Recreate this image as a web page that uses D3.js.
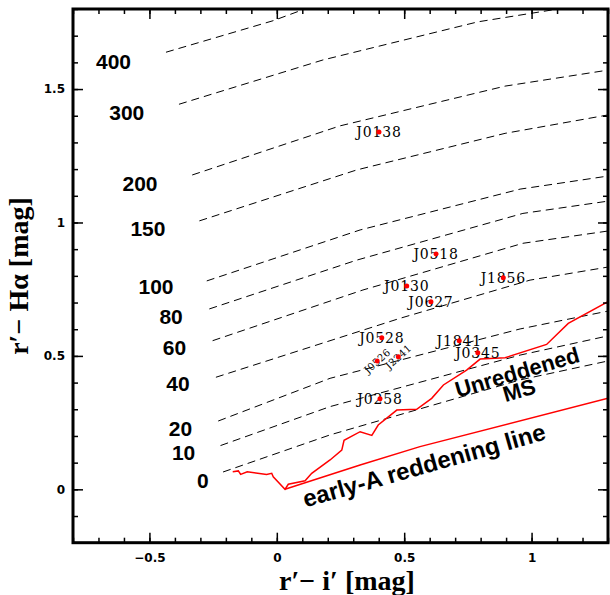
<!DOCTYPE html>
<html>
<head>
<meta charset="utf-8">
<script src="https://cdn.jsdelivr.net/npm/d3@7"></script>
<style>
  html, body { margin: 0; padding: 0; background: #fff; }
  svg { display: block; }
</style>
</head>
<body>
<svg id="chart" width="610" height="595"></svg>
<script>
// Axis extents and tick labels
const xDomain = [-0.8, 1.3];
const yDomain = [-0.2, 1.8];
const xMajor = [-0.5, 0, 0.5, 1];
const xTickLabels = ["\u22120.5", "0", "0.5", "1"];
const yMajor = [0, 0.5, 1, 1.5];
const yTickLabels = ["0", "0.5", "1", "1.5"];

// Lines of constant H-alpha equivalent width (Å): [r'-i', r'-Hα] vertices
const ewLevels = ["0", "10", "20", "40", "60", "80", "100", "150", "200", "300", "400"];
const ewTracks = [
  [[-0.211, 0.065], [0.209, 0.204], [0.955, 0.410], [1.300, 0.481]],
  [[-0.221, 0.164], [0.209, 0.310], [0.955, 0.503], [1.300, 0.575]],
  [[-0.230, 0.256], [0.209, 0.416], [0.955, 0.601], [1.300, 0.668]],
  [[-0.239, 0.420], [0.484, 0.641], [0.994, 0.784], [1.300, 0.833]],
  [[-0.252, 0.557], [0.338, 0.747], [0.966, 0.922], [1.300, 0.968]],
  [[-0.265, 0.676], [0.314, 0.859], [0.966, 1.034], [1.300, 1.080]],
  [[-0.275, 0.781], [0.327, 0.972], [0.955, 1.125], [1.300, 1.174]],
  [[-0.304, 1.006], [0.314, 1.197], [0.896, 1.334], [1.300, 1.403]],
  [[-0.332, 1.178], [0.248, 1.362], [0.896, 1.511], [1.300, 1.571]],
  [[-0.384, 1.443], [0.181, 1.609], [0.790, 1.752], [1.104, 1.800]],
  [[-0.435, 1.638], [-0.015, 1.756], [0.110, 1.800]]
];
// Where each equivalent-width label sits, in data units
const ewLabelRI = [-0.290, -0.366, -0.378, -0.388, -0.402, -0.415, -0.474, -0.506, -0.537, -0.589, -0.641];
const ewLabelRHa = [0.035, 0.137, 0.229, 0.395, 0.531, 0.647, 0.762, 0.976, 1.148, 1.414, 1.605];

// Unreddened main sequence
const msRI = [-0.173, -0.151, -0.142, -0.116, -0.040, -0.020, -0.014, 0.032, 0.045, 0.111, 0.137, 0.209,
              0.255, 0.264, 0.327, 0.373, 0.398, 0.471, 0.549, 0.608, 0.654, 0.745, 0.798, 0.896,
              1.059, 1.144, 1.300];
const msRHa = [0.066, 0.069, 0.056, 0.066, 0.056, 0.060, 0.047, 0.000, 0.019, 0.032, 0.060, 0.110,
               0.147, 0.184, 0.216, 0.202, 0.241, 0.297, 0.300, 0.341, 0.391, 0.447, 0.488, 0.493,
               0.543, 0.622, 0.703];

// Early-A reddening line
const redRI = [0.032, 0.327, 0.562, 1.300];
const redRHa = [0.000, 0.091, 0.160, 0.341];

// Emission-line objects
const starNames = ["J0138", "J0518", "J1856", "J0130", "J0627", "J0528", "J1841", "J0345", "J0258", "J0526", "J2241"];
const starRI = [0.401, 0.625, 0.889, 0.510, 0.605, 0.412, 0.716, 0.789, 0.405, 0.394, 0.477];
const starRHa = [1.339, 0.882, 0.793, 0.762, 0.703, 0.568, 0.557, 0.512, 0.339, 0.481, 0.497];
const tiltedNames = ["J0526", "J2241"];

const plot = { left: 73, right: 608, top: 9, bottom: 542.7 };

const svg = d3.select("#chart");
const x = d3.scaleLinear().domain(xDomain).range([plot.left, plot.right]);
const y = d3.scaleLinear().domain(yDomain).range([plot.bottom, plot.top]);

svg.append("defs").append("clipPath").attr("id", "plotArea")
  .append("rect")
  .attr("x", plot.left).attr("y", plot.top)
  .attr("width", plot.right - plot.left).attr("height", plot.bottom - plot.top);

const line = d3.line().x(d => x(d[0])).y(d => y(d[1]));
const content = svg.append("g").attr("clip-path", "url(#plotArea)");

// Dashed equivalent-width tracks
content.selectAll("path.ew")
  .data(ewTracks)
  .join("path")
  .attr("class", "ew")
  .attr("d", line)
  .attr("fill", "none")
  .attr("stroke", "#000")
  .attr("stroke-width", 1)
  .attr("stroke-dasharray", "8,5");

// Main sequence and reddening line
content.append("path")
  .datum(d3.zip(msRI, msRHa))
  .attr("d", line)
  .attr("fill", "none")
  .attr("stroke", "#ff0000")
  .attr("stroke-width", 1.5)
  .attr("stroke-linejoin", "miter");

content.append("path")
  .datum(d3.zip(redRI, redRHa))
  .attr("d", line)
  .attr("fill", "none")
  .attr("stroke", "#ff0000")
  .attr("stroke-width", 1.5);

// Equivalent-width labels
svg.append("g")
  .selectAll("text")
  .data(ewLevels)
  .join("text")
  .attr("x", (d, i) => x(ewLabelRI[i]))
  .attr("y", (d, i) => y(ewLabelRHa[i]))
  .attr("dy", "0.36em")
  .attr("text-anchor", "middle")
  .attr("font-family", "'Liberation Sans', Arial, sans-serif")
  .attr("font-weight", "bold")
  .attr("font-size", 21)
  .text(d => d);

// Object labels with their points
const stars = starNames.map((n, i) => ({ name: n, ri: starRI[i], rha: starRHa[i], tilted: tiltedNames.includes(n) }));
const sg = svg.append("g");
sg.selectAll("text")
  .data(stars)
  .join("text")
  .attr("transform", d => `translate(${x(d.ri)},${y(d.rha)}) rotate(${d.tilted ? -42 : 0})`)
  .attr("dy", "0.36em")
  .attr("text-anchor", "middle")
  .attr("font-family", "'DejaVu Serif', serif")
  .attr("font-size", d => d.tilted ? 10 : 14)
  .attr("letter-spacing", d => d.tilted ? 0.3 : 0.8)
  .attr("fill", "#000")
  .text(d => d.name);
sg.selectAll("circle")
  .data(stars)
  .join("circle")
  .attr("cx", d => x(d.ri))
  .attr("cy", d => y(d.rha))
  .attr("r", 2.5)
  .attr("fill", "#ff0000");

// Curve annotations
const annot = svg.append("g")
  .attr("font-family", "'Liberation Sans', Arial, sans-serif")
  .attr("font-weight", "bold")
  .attr("text-anchor", "middle");
annot.append("text")
  .attr("transform", "translate(517,372) rotate(-16.3)")
  .attr("dy", "0.36em").attr("font-size", 22)
  .text("Unreddened");
annot.append("text")
  .attr("transform", "translate(519,390) rotate(-16.3)")
  .attr("dy", "0.36em").attr("font-size", 22)
  .text("MS");
annot.append("text")
  .attr("transform", "translate(424,465) rotate(-15.8)")
  .attr("dy", "0.36em").attr("font-size", 24)
  .text("early-A reddening line");

// Axes: ticks on all four sides, pointing inward
const minorX = x.ticks(20);
const minorY = y.ticks(20);
const tickFont = "'DejaVu Sans', sans-serif";

function styleAxis(g) {
  g.select(".domain").remove();
  g.selectAll(".tick line").attr("stroke", "#000").attr("stroke-width", 1.5);
  g.selectAll(".tick text")
    .attr("font-family", tickFont)
    .attr("font-weight", "bold")
    .attr("font-size", 12)
    .attr("fill", "#000");
}

svg.append("g").attr("transform", `translate(0,${plot.bottom})`)
  .call(d3.axisBottom(x).tickValues(minorX).tickSize(-5).tickFormat("")).call(styleAxis);
svg.append("g").attr("transform", `translate(0,${plot.bottom})`)
  .call(d3.axisBottom(x).tickValues(xMajor).tickSize(-10).tickPadding(10.5)
    .tickFormat((d, i) => xTickLabels[i])).call(styleAxis);
svg.append("g").attr("transform", `translate(0,${plot.top})`)
  .call(d3.axisTop(x).tickValues(minorX).tickSize(-5).tickFormat("")).call(styleAxis);
svg.append("g").attr("transform", `translate(0,${plot.top})`)
  .call(d3.axisTop(x).tickValues(xMajor).tickSize(-10).tickFormat("")).call(styleAxis);

svg.append("g").attr("transform", `translate(${plot.left},0)`)
  .call(d3.axisLeft(y).tickValues(minorY).tickSize(-5).tickFormat("")).call(styleAxis);
svg.append("g").attr("transform", `translate(${plot.left},0)`)
  .call(d3.axisLeft(y).tickValues(yMajor).tickSize(-10).tickPadding(8)
    .tickFormat((d, i) => yTickLabels[i])).call(styleAxis);
svg.append("g").attr("transform", `translate(${plot.right},0)`)
  .call(d3.axisRight(y).tickValues(minorY).tickSize(-5).tickFormat("")).call(styleAxis);
svg.append("g").attr("transform", `translate(${plot.right},0)`)
  .call(d3.axisRight(y).tickValues(yMajor).tickSize(-10).tickFormat("")).call(styleAxis);

// Frame
svg.append("rect")
  .attr("x", plot.left).attr("y", plot.top)
  .attr("width", plot.right - plot.left).attr("height", plot.bottom - plot.top)
  .attr("fill", "none").attr("stroke", "#000").attr("stroke-width", 3);

// Axis titles
const titleFont = "'Liberation Serif', 'Times New Roman', serif";
svg.append("text")
  .attr("x", 347).attr("y", 590)
  .attr("text-anchor", "middle")
  .attr("font-family", titleFont).attr("font-weight", "bold").attr("font-size", 28)
  .text("r\u2032\u2212 i\u2032 [mag]");
svg.append("text")
  .attr("transform", "translate(28,276) rotate(-90)")
  .attr("text-anchor", "middle")
  .attr("font-family", titleFont).attr("font-weight", "bold").attr("font-size", 28)
  .text("r\u2032\u2212 H\u03b1 [mag]");
</script>
</body>
</html>
